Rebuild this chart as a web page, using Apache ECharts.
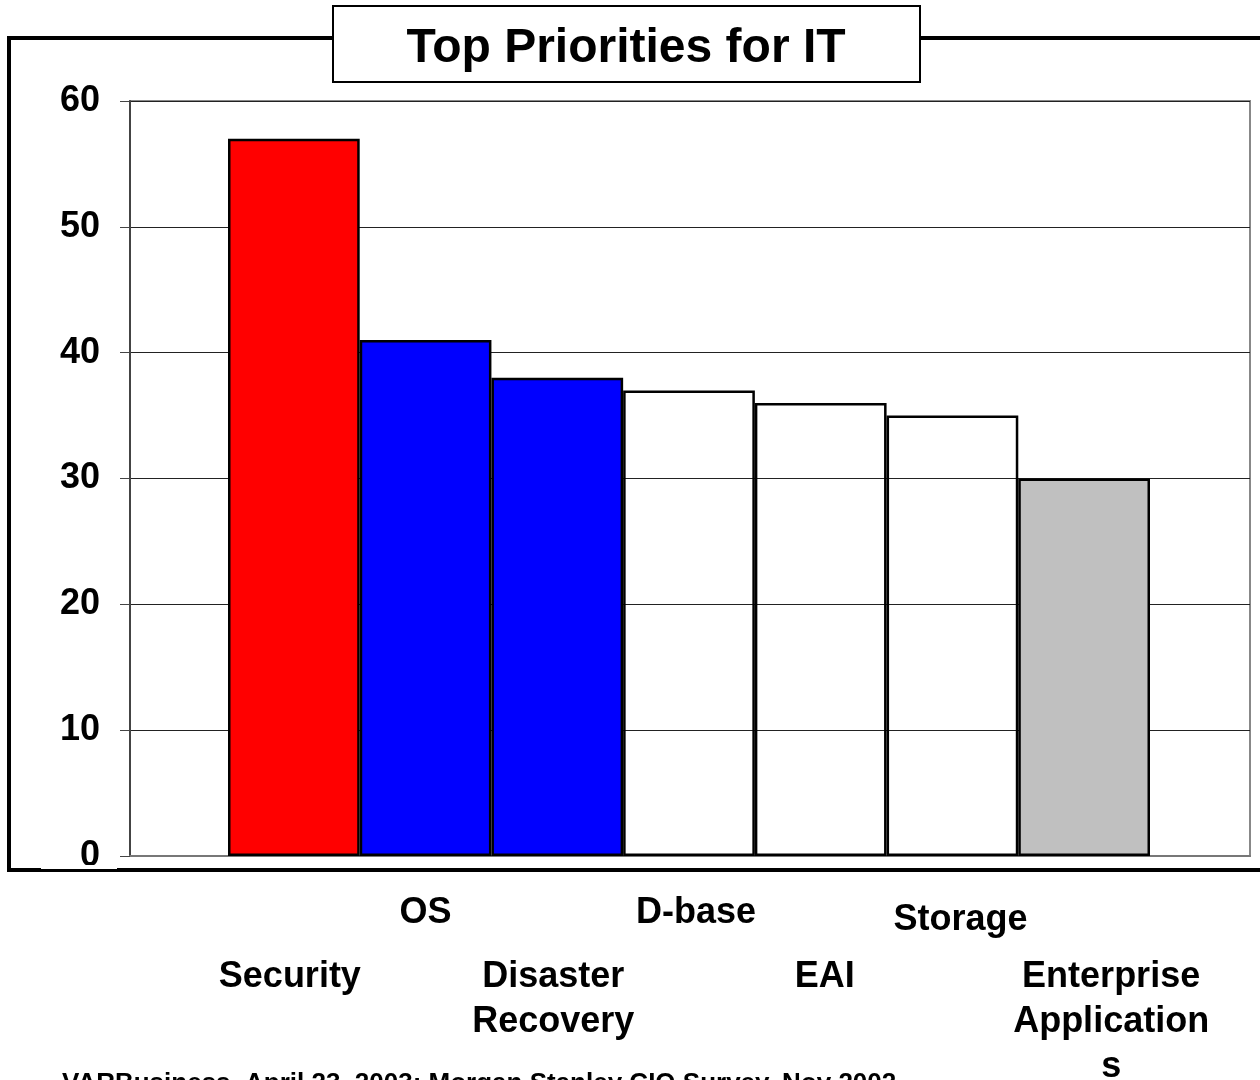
<!DOCTYPE html>
<html><head><meta charset="utf-8">
<script src="https://cdn.jsdelivr.net/npm/echarts@6/dist/echarts.min.js"></script>
<style>html,body{margin:0;padding:0;background:#fff;}#c{width:1260px;height:1080px;}</style>
</head><body><div id="c"></div>
<script>
var categories = ['Security','OS','Disaster Recovery','D-base','EAI','Storage','Enterprise Applications'];
var values = [57, 41, 38, 37, 36, 35, 30];
var barColors = ['#ff0000','#0000ff','#0000ff','rgba(255,255,255,0)','rgba(255,255,255,0)','rgba(255,255,255,0)','#c0c0c0'];
var yTicks = [0,10,20,30,40,50,60];
var titleText = 'Top Priorities for IT';
var footerText = 'VARBusiness, April 23, 2003; Morgan Stanley CIO Survey, Nov 2002';

var FONT = '"Liberation Sans", Arial, sans-serif';
var chart = echarts.init(document.getElementById('c'), null, {renderer:'canvas'});

function catLabel(v){
  switch(v){
    case 'Security': return '{sp| }\n{tL|Security}';
    case 'OS': return '{t|OS}';
    case 'Disaster Recovery': return '{sp| }\n{tL|Disaster}\n{tL|Recovery}';
    case 'D-base': return '{tR|D-base}';
    case 'EAI': return '{sp| }\n{tA|EAI}';
    case 'Storage': return '{sp2| }\n{tS|Storage}';
    case 'Enterprise Applications': return '{sp| }\n{tE|Enterprise}\n{tE|Application}\n{tE|s}';
  }
  return v;
}
var base = {fontFamily: FONT, fontWeight:'bold', fontSize:36, color:'#000', lineHeight:45};

chart.setOption({
  animation:false,
  graphic:[
    {type:'polyline', z:-1, shape:{points:[[333,38],[9,38],[9,870],[1260,870]]}, style:{stroke:'#000', lineWidth:4, fill:null}},
    {type:'line', z:-1, shape:{x1:920,y1:38,x2:1260,y2:38}, style:{stroke:'#000', lineWidth:4}},
    {type:'rect', z:100, shape:{x:41,y:865,width:76,height:4}, style:{fill:'#fff'}},
    {type:'rect', z:100, shape:{x:333,y:6,width:587,height:76}, style:{fill:'#fff', stroke:'#000', lineWidth:2}},
    {type:'text', z:101, x:626, y:49, style:{text:titleText, font:'bold 48px '+FONT, fill:'#000', align:'center', verticalAlign:'middle'}},
    {type:'text', z:100, left:62, top:1071, style:{text:footerText, font:'bold 26px '+FONT, fill:'#000'}}
  ],
  grid:[
    {left:130, right:10, top:101, bottom:224, show:true, borderColor:'#888', borderWidth:2, backgroundColor:'#fff', outerBoundsMode:'none', containLabel:false},
    {left:228, right:110, top:101, bottom:224, outerBoundsMode:'none', containLabel:false}
  ],
  xAxis:[
    {gridIndex:0, type:'category', data:[], axisLine:{show:true, lineStyle:{color:'#777', width:2}}, axisTick:{show:false}, axisLabel:{show:false}, splitLine:{show:false}},
    {gridIndex:1, type:'category', data:categories, axisLine:{show:false}, axisTick:{show:false},
      axisLabel:{interval:0, margin:35, formatter:catLabel, rich:{
        t: Object.assign({}, base),
        tL: Object.assign({}, base, {padding:[0,8,0,0]}),
        tA: Object.assign({}, base, {padding:[0,0,0,8]}),
        tR: Object.assign({}, base, {padding:[0,0,0,14]}),
        tS: Object.assign({}, base, {padding:[0,0,0,16]}),
        tE: Object.assign({}, base, {padding:[0,0,0,54]}),
        sp: {fontSize:10, lineHeight:64},
        sp2: {fontSize:4, lineHeight:7}
      }}}
  ],
  yAxis:[
    {gridIndex:0, type:'value', min:0, max:60, interval:10,
      axisLine:{show:true, lineStyle:{color:'#444', width:2}},
      axisTick:{show:true, length:10, lineStyle:{color:'#444', width:1}},
      axisLabel:{margin:30, fontFamily:FONT, fontWeight:'bold', fontSize:36, color:'#000',
        formatter:function(v){ return yTicks.indexOf(v) >= 0 ? String(v) : ''; }},
      splitLine:{show:true, lineStyle:{color:'#222', width:1}}},
    {gridIndex:1, type:'value', min:0, max:60, interval:10, show:false, splitLine:{show:false}}
  ],
  series:[{
    type:'bar', xAxisIndex:1, yAxisIndex:1, barCategoryGap:'0%',
    data: values.map(function(v,i){ return {value:v, itemStyle:{color:barColors[i]}}; }),
    itemStyle:{borderColor:'#000', borderWidth:2.5}
  }]
});
</script></body></html>
